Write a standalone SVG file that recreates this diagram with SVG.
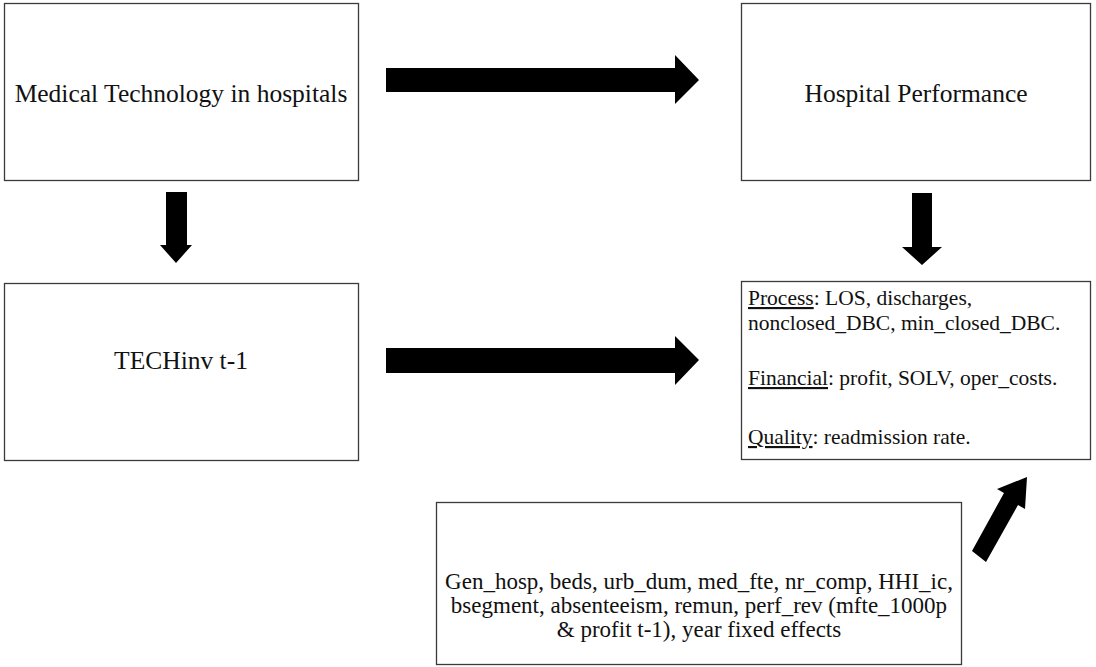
<svg xmlns="http://www.w3.org/2000/svg" width="1096" height="667" viewBox="0 0 1096 667">
<style>
.box{fill:#fff;stroke:#3a3a3a;stroke-width:1.3}
.t{font-family:"Liberation Serif","Times New Roman",serif;fill:#111}
.big{font-size:25.5px}
.sm{font-size:21.5px}
.md{font-size:23px}
.arr{fill:#000}
</style>
<rect width="1096" height="667" fill="#fff"/>
<g id="n1"><rect class="box" x="4.5" y="3.5" width="354" height="177"/><text class="t big" x="181" y="102" text-anchor="middle">Medical Technology in hospitals</text></g>
<g id="n2"><rect class="box" x="741.5" y="3.5" width="349" height="177"/><text class="t big" x="916" y="102" text-anchor="middle">Hospital Performance</text></g>
<g id="n3"><rect class="box" x="4.5" y="283.5" width="354" height="177"/><text class="t big" x="181" y="369" text-anchor="middle">TECHinv t-1</text></g>
<g id="n4"><rect class="box" x="741.5" y="281.5" width="349" height="178"/>
<text class="t sm" x="748" y="305"><tspan text-decoration="underline">Process</tspan>: LOS, discharges,</text>
<text class="t sm" x="748" y="330">nonclosed_DBC, min_closed_DBC.</text>
<text class="t sm" x="748" y="385"><tspan text-decoration="underline">Financial</tspan>: profit, SOLV, oper_costs.</text>
<text class="t sm" x="748" y="444"><tspan text-decoration="underline">Quality</tspan>: readmission rate.</text>
</g>
<g id="n5"><rect class="box" x="436.5" y="502.5" width="525" height="162"/>
<text class="t md" x="699" y="589" text-anchor="middle">Gen_hosp, beds, urb_dum, med_fte, nr_comp, HHI_ic,</text>
<text class="t md" x="699" y="613" text-anchor="middle">bsegment, absenteeism, remun, perf_rev (mfte_1000p</text>
<text class="t md" x="699" y="637" text-anchor="middle">&amp; profit t-1), year fixed effects</text>
</g>
<g id="connectors">
<polygon class="arr" points="386,68 675,68 675,55 699,80 675,104 675,92 386,92"/>
<polygon class="arr" points="386,348 675,348 675,336 699,360 675,385 675,373 386,373"/>
<polygon class="arr" points="166,192 187,192 187,245 192,245 176,263 160,245 166,245"/>
<polygon class="arr" points="912,193 932,193 932,247 942,247 922,265 902,247 912,247"/>
<polygon class="arr" points="972,551 1004,493 997,489 1027,477 1025,509 1018,505 986,562"/>
</g>
</svg>
